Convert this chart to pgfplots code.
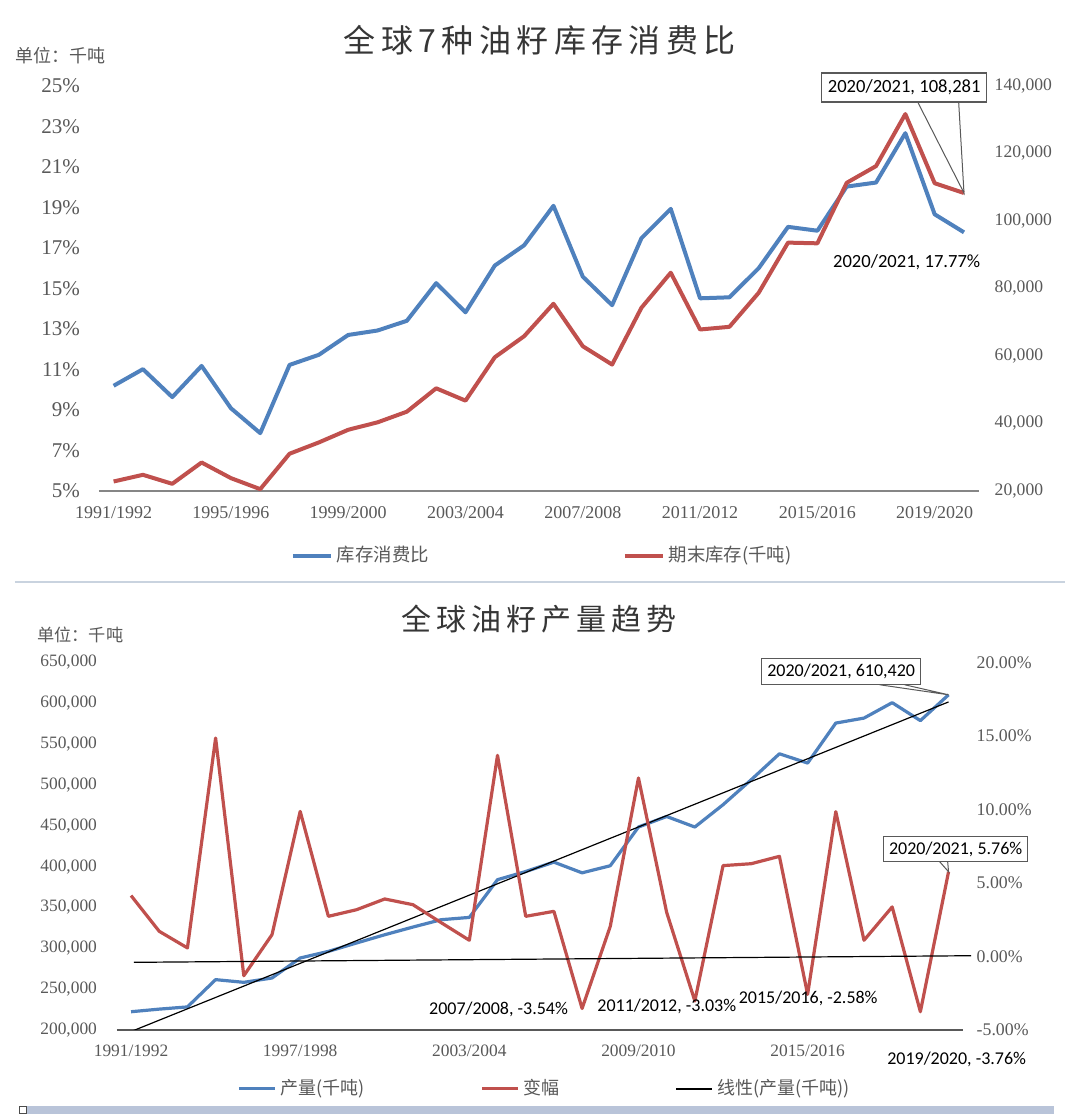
\documentclass[border=0pt]{standalone}
\usepackage{fontspec}
\setmainfont{Liberation Serif}
\newfontfamily\cjk{Noto Sans CJK SC}
\newfontfamily\cjkt[LetterSpace=17]{Noto Sans CJK SC}
\newfontfamily\cjkb[LetterSpace=17]{Noto Sans CJK SC}
\newfontfamily\calfont{Carlito}
\usepackage{pgfplots}
\usepackage{pgfplotstable}
\pgfplotsset{compat=1.18}
\definecolor{sblue}{HTML}{4F81BD}
\definecolor{sred}{HTML}{C0504D}
\definecolor{tgray}{HTML}{595959}
\definecolor{agray}{HTML}{868686}
\definecolor{titlegray}{HTML}{363636}
\definecolor{sepc}{HTML}{C9D3DF}
\definecolor{bandc}{HTML}{B9C4D9}

\pgfplotstableread{
x ratio stock
0 10.19 22770
1 11.01 24750
2 9.63 22080
3 11.17 28400
4 9.08 23770
5 7.85 20500
6 11.22 31000
7 11.72 34350
8 12.70 38100
9 12.92 40300
10 13.40 43460
11 15.26 50390
12 13.82 46730
13 16.13 59600
14 17.13 65830
15 19.08 75450
16 15.58 62860
17 14.17 57420
18 17.48 74260
19 18.93 84650
20 14.51 67820
21 14.56 68610
22 16.00 78720
23 18.04 93570
24 17.85 93360
25 20.03 111300
26 20.23 116250
27 22.67 131670
28 18.66 111180
29 17.77 108281
}\topdata

\pgfplotstableread{
x prod chg
0 222300 4.14
1 225500 1.71
2 228200 0.58
3 261600 14.86
4 258300 -1.31
5 263600 1.48
6 288100 9.87
7 296200 2.73
8 306500 3.18
9 316600 3.91
10 326000 3.52
11 335000 2.30
12 337800 1.10
13 384000 13.68
14 394000 2.73
15 405500 3.07
16 392400 -3.54
17 401100 2.05
18 448500 12.14
19 461400 3.00
20 448500 -3.03
21 475800 6.18
22 506400 6.31
23 538200 6.81
24 526800 -2.58
25 575800 9.85
26 581900 1.10
27 600800 3.37
28 578800 -3.76
29 610420 5.76
}\botdata

\begin{document}
\begin{tikzpicture}
\path[fill=white] (0,0) rectangle (540pt,-557pt);

% ---------- top chart ----------
\node[font=\cjkt\fontsize{16}{16}\selectfont, text=titlegray, inner sep=0] at (270pt,-20pt) {全球7种油籽库存消费比};
\node[anchor=west, font=\cjk\fontsize{9}{9}\selectfont, text=tgray, inner sep=0] at (7.75pt,-28pt) {单位：千吨};

\begin{axis}[at={(49.5pt,-245.5pt)}, anchor=south west, scale only axis,
  width=440pt, height=202.5pt,
  xmin=-0.5, xmax=29.5, ymin=5, ymax=25,
  xtick={0,4,...,28},
  xticklabels={1991/1992,1995/1996,1999/2000,2003/2004,2007/2008,2011/2012,2015/2016,2019/2020},
  ytick={5,7,...,25},
  yticklabel={\pgfmathprintnumber{\tick}\%},
  axis x line*=bottom, axis y line*=left,
  axis line style={-},
  y axis line style={draw=none},
  x axis line style={agray, line width=0.8pt},
  major tick length=0pt,
  tick label style={text=tgray},
  yticklabel style={font=\fontsize{10.5}{10.5}\selectfont, xshift=-6pt},
  xticklabel style={font=\fontsize{9}{9}\selectfont, yshift=-4.5pt},
  /pgf/number format/assume math mode=true,
  clip=false]
\addplot[sblue, line width=2pt, line join=round] table[x=x, y=ratio] {\topdata};
\coordinate (pB) at (axis cs:29,17.77);
\end{axis}

\begin{axis}[at={(49.5pt,-245.5pt)}, anchor=south west, scale only axis,
  width=440pt, height=202.5pt,
  xmin=-0.5, xmax=29.5, ymin=20000, ymax=140000,
  ytick={20000,40000,...,140000},
  axis x line=none, axis y line*=right,
  axis line style={-},
  y axis line style={draw=none},
  major tick length=0pt,
  scaled y ticks=false,
  /pgf/number format/fixed,
  /pgf/number format/1000 sep={,},
  /pgf/number format/assume math mode=true,
  tick label style={text=tgray},
  yticklabel style={font=\fontsize{8.8}{8.8}\selectfont, xshift=4.5pt},
  legend style={at={(0.505,-0.16)}, anchor=center, draw=none, fill=none,
    font=\cjk\fontsize{9.2}{9.2}\selectfont, text=tgray,
    /tikz/every even column/.append style={column sep=95pt}},
  legend columns=2,
  legend image code/.code={\draw[#1] (0pt,0pt) -- (19pt,0pt);},
  clip=false]
\addlegendimage{sblue, line width=2pt}
\addlegendentry{库存消费比}
\addplot[sred, line width=2pt, line join=round] table[x=x, y=stock] {\topdata};
\addlegendentry{期末库存(千吨)}
\coordinate (pA) at (axis cs:29,108281);
\end{axis}

\node[draw=tgray, line width=0.6pt, fill=white, font=\calfont\fontsize{9.3}{9.3}\selectfont,
  minimum width=82.5pt, minimum height=14.5pt, inner sep=0] at (452.25pt,-43.75pt) {2020/2021, 108,281};
\draw[tgray, line width=0.5pt] (459pt,-51pt) -- (pA) -- (479.5pt,-51pt);
\node[font=\calfont\fontsize{9.3}{9.3}\selectfont, inner sep=0] at (453.5pt,-131pt) {2020/2021, 17.77\%};

% separator
\draw[sepc, line width=1pt] (7.5pt,-291pt) -- (532.5pt,-291pt);

% ---------- bottom chart ----------
\node[font=\cjkb\fontsize{15}{15}\selectfont, text=titlegray, inner sep=0] at (269.5pt,-309.5pt) {全球油籽产量趋势};
\node[anchor=west, font=\cjk\fontsize{8.6}{8.6}\selectfont, text=tgray, inner sep=0] at (18.5pt,-317.5pt) {单位：千吨};

\begin{axis}[at={(58.5pt,-515.15pt)}, anchor=south west, scale only axis,
  width=423pt, height=183.8pt,
  xmin=-0.5, xmax=29.5, ymin=200000, ymax=650000,
  xtick={0,6,...,24},
  xticklabels={1991/1992,1997/1998,2003/2004,2009/2010,2015/2016},
  ytick={200000,250000,...,650000},
  axis x line*=bottom, axis y line*=left,
  axis line style={-},
  y axis line style={draw=none},
  x axis line style={tgray, line width=0.8pt},
  major tick length=0pt,
  scaled y ticks=false,
  /pgf/number format/fixed,
  /pgf/number format/1000 sep={,},
  /pgf/number format/assume math mode=true,
  tick label style={text=tgray},
  yticklabel style={font=\fontsize{8.7}{8.7}\selectfont, xshift=-6.5pt},
  xticklabel style={font=\fontsize{8.7}{8.7}\selectfont, yshift=-4pt}]
\addplot[sblue, line width=1.6pt, line join=round] table[x=x, y=prod] {\botdata};
\addplot[black, line width=0.6pt] table[x=x, y={create col/linear regression={y=prod}}] {\botdata};
\coordinate (pC) at (axis cs:29,610420);
\end{axis}

\begin{axis}[at={(58.5pt,-515.15pt)}, anchor=south west, scale only axis,
  width=423pt, height=183.8pt,
  xmin=-0.5, xmax=29.5, ymin=-5, ymax=20,
  ytick={-5,0,...,20},
  yticklabel={\pgfmathprintnumber[fixed,fixed zerofill,precision=2]{\tick}\%},
  axis x line=none, axis y line*=right,
  axis line style={-},
  y axis line style={draw=none},
  major tick length=0pt,
  /pgf/number format/assume math mode=true,
  tick label style={text=tgray},
  yticklabel style={font=\fontsize{8.9}{8.9}\selectfont, xshift=3.5pt},
  legend style={at={(0.5065,-0.16)}, anchor=center, draw=none, fill=none,
    font=\cjk\fontsize{9}{9}\selectfont, text=tgray,
    /tikz/every even column/.append style={column sep=56pt}},
  legend columns=3,
  legend image code/.code={\draw[#1] (0pt,0pt) -- (18pt,0pt);},
  clip=false]
\addlegendimage{sblue, line width=1.6pt}
\addlegendentry{产量(千吨)}
\addplot[sred, line width=1.6pt, line join=round] table[x=x, y=chg] {\botdata};
\addlegendentry{变幅}
\addplot[black, line width=0.6pt, forget plot] coordinates {(0.1,-0.40) (29.8,0.05)};
\addlegendimage{black, line width=0.8pt}
\addlegendentry{线性(产量(千吨))}
\coordinate (pD) at (axis cs:29,5.76);
\end{axis}

\node[draw=tgray, line width=0.6pt, fill=white, font=\calfont\fontsize{9}{9}\selectfont,
  minimum width=79.5pt, minimum height=13pt, inner sep=0] at (420.75pt,-336pt) {2020/2021, 610,420};
\draw[tgray, line width=0.5pt] (440pt,-342.5pt) -- (pC) -- (452.5pt,-342.5pt);
\node[draw=tgray, line width=0.6pt, fill=white, font=\calfont\fontsize{9}{9}\selectfont,
  minimum width=72pt, minimum height=12.5pt, inner sep=0] at (478pt,-424.75pt) {2020/2021, 5.76\%};
\draw[tgray, line width=0.5pt] (470pt,-431pt) -- (pD) -- (474pt,-431pt);

\node[font=\calfont\fontsize{9}{9}\selectfont, inner sep=0] at (249.35pt,-504.65pt) {2007/2008, -3.54\%};
\node[font=\calfont\fontsize{9}{9}\selectfont, inner sep=0] at (333.5pt,-503.35pt) {2011/2012, -3.03\%};
\node[font=\calfont\fontsize{9}{9}\selectfont, inner sep=0] at (404.25pt,-499.15pt) {2015/2016, -2.58\%};
\node[font=\calfont\fontsize{9}{9}\selectfont, inner sep=0] at (478.5pt,-530pt) {2019/2020, -3.76\%};

% bottom band
\fill[bandc] (13pt,-553.35pt) rectangle (527pt,-557pt);
\draw[black!70, fill=white, line width=0.4pt] (9.75pt,-553.6pt) rectangle (13pt,-557pt);
\end{tikzpicture}
\end{document}
